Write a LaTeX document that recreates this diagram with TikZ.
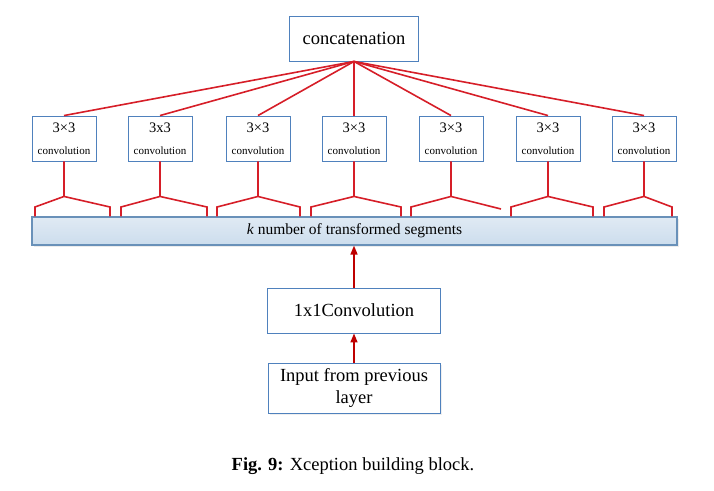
\documentclass[tikz,border=0pt]{standalone}
\usepackage{fontspec}
\setmainfont{Liberation Serif}
\usetikzlibrary{arrows.meta, positioning, shadows}
\usepackage{xcolor}
\definecolor{boxblue}{RGB}{79,129,189}
\definecolor{barblue}{RGB}{105,145,185}
\definecolor{bartop}{RGB}{224,234,244}
\definecolor{barbot}{RGB}{204,221,237}
\definecolor{linkred}{RGB}{214,30,40}
\definecolor{arrowred}{RGB}{190,0,0}
\tikzset{
  box/.style     = {draw=boxblue, fill=white, line width=0.9pt, align=center,
                    font=\fontsize{18.5}{21}\selectfont, inner sep=0pt},
  convbox/.style = {box, minimum width=64pt, minimum height=45pt},
  segbar/.style  = {draw=barblue, line width=1.2pt, top color=bartop, bottom color=barbot,
                    minimum width=645pt, minimum height=28pt, inner sep=0pt,
                    font=\fontsize{15.5}{18}\selectfont,
                    drop shadow={shadow xshift=2pt, shadow yshift=-2pt, fill=black!15}},
  link/.style    = {color=linkred, line width=1.6pt},
  arrow/.style   = {-{Triangle[length=9pt, width=7pt]}, color=arrowred, line width=1.6pt},
}

\begin{document}
\begin{tikzpicture}[x=1pt, y=-1pt]
  \useasboundingbox (0,0) rectangle (714,490);
  % top and bottom blocks
  \node[box, minimum width=129pt, minimum height=45pt] (concat) at (354, 38.5) {concatenation};
  \node[segbar] (bar) at (354.5, 231) {\textit{k} number of transformed segments};
  \node[box, minimum width=173pt, minimum height=45pt] (onexone) at (354, 310.5) {1x1Convolution};
  \node[box, minimum width=172pt, minimum height=50pt, font=\fontsize{18.5}{22}\selectfont,
        drop shadow={shadow xshift=1.5pt, shadow yshift=-1.5pt, fill=black!12}]
        (input) at (354, 388) {Input from previous\\layer};
  % the seven branches
  \foreach \i/\x/\lbl in {1/64/3{\texttimes}3, 2/160/3x3, 3/258/3{\texttimes}3, 4/354/3{\texttimes}3,
                          5/451/3{\texttimes}3, 6/548/3{\texttimes}3, 7/644/3{\texttimes}3} {
    \node[convbox] (c\i) at (\x, 138.5)
      {{\fontsize{14.5}{16}\selectfont \lbl}\\[1pt]{\fontsize{11}{12}\selectfont convolution}};
    \draw[link] (concat.south) -- (c\i.north);
  }
  \foreach \i/\l/\r in {1/35/110, 2/121/207, 3/217/300, 4/311/401, 6/511/593, 7/604/672} {
    \draw[link] (c\i.south) -- ++(0,35) coordinate (p\i)
      (\l,0 |- bar.north) -- (\l,207) -- (p\i) -- (\r,207) -- (\r,0 |- bar.north);
  }
  \draw[link] (c5.south) -- ++(0,35) coordinate (p5)
    (411,0 |- bar.north) -- (411,207) -- (p5) -- (501,209);
  % input path
  \draw[arrow] (input.north) -- (onexone.south);
  \draw[arrow] (onexone.north) -- (onexone.north |- bar.south);
  \node[font=\fontsize{18.5}{22}\selectfont] (caption) at (353, 466)
    {\textbf{Fig. 9:} Xception building block.};
\end{tikzpicture}
\end{document}
